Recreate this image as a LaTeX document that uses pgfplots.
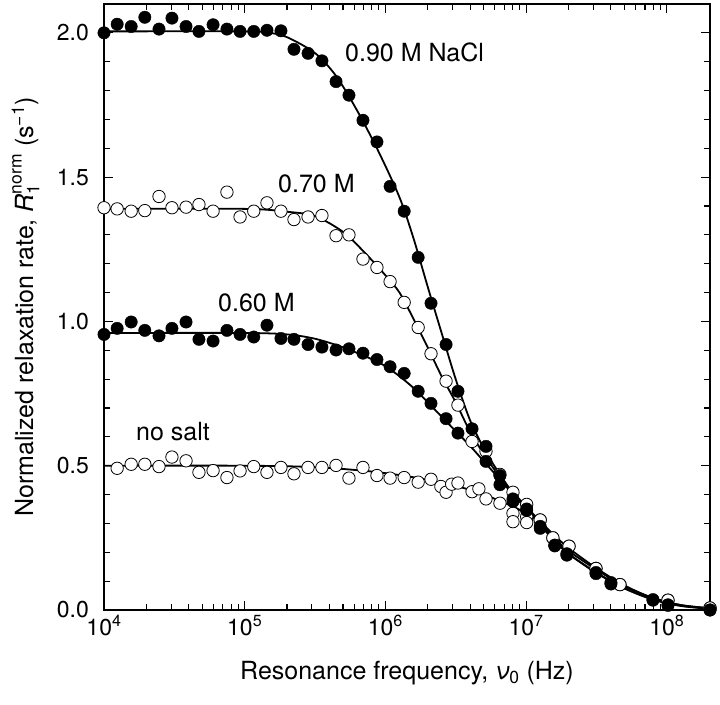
\documentclass[border=0pt]{standalone}
\usepackage{fontspec}
\setmainfont{TeX Gyre Heros}
\usepackage{amsmath}
\usepackage{pgfplots}
\pgfplotsset{compat=1.18}

\begin{document}
\begin{tikzpicture}
\useasboundingbox (-104pt,-94pt) rectangle (616pt,610pt);
\begin{axis}[
  at={(0,0)}, anchor=south west,
  width=606pt, height=606pt, scale only axis,
  xmode=log, xmin=1e4, xmax=2.03e8, ymin=0, ymax=2.1,
  clip=false,
  axis line style={line width=1.2pt},
  tick style={black, line width=1.1pt},
  major tick length=9pt, minor tick length=6pt,
  xtick={1e4,1e5,1e6,1e7,1e8},
  xticklabels={10\textsuperscript{4},10\textsuperscript{5},10\textsuperscript{6},10\textsuperscript{7},10\textsuperscript{8}},
  minor xtick={2e4,3e4,4e4,5e4,6e4,7e4,8e4,9e4,2e5,3e5,4e5,5e5,6e5,7e5,8e5,9e5,
    2e6,3e6,4e6,5e6,6e6,7e6,8e6,9e6,2e7,3e7,4e7,5e7,6e7,7e7,8e7,9e7,2e8},
  ytick={0,0.5,1,1.5,2},
  yticklabels={0.0,0.5,1.0,1.5,2.0},
  minor ytick={0.1,0.2,0.3,0.4,0.6,0.7,0.8,0.9,1.1,1.2,1.3,1.4,1.6,1.7,1.8,1.9,2.1},
  tick label style={font=\fontsize{23}{26}\selectfont},
  yticklabel style={inner sep=0pt, xshift=-15pt},
  xticklabel style={inner sep=0pt, anchor=north, yshift=-5pt},
  label style={font=\fontsize{25}{28}\selectfont},
  xlabel={Resonance frequency, $\textit{ν}_{\text{0}}$ (Hz)},
  xlabel style={at={(axis description cs:0.5,-0.1155)}, anchor=base, inner sep=0pt},
  ylabel={Normalized relaxation rate, $\textit{R}_{\text{1}}^{\text{norm}}$ (s$^{\text{−1}}$)},
  ylabel style={at={(axis description cs:-0.117,0.5)}, anchor=base, inner sep=0pt},
  fit/.style={black, line width=1.8pt, smooth},
  full/.style={only marks, mark=*, mark size=6.2pt, mark options={fill=black, draw=black}},
  empty/.style={only marks, mark=*, mark size=6.2pt, mark options={fill=white, draw=black, line width=0.8pt}},
]
% fitted curves
\addplot[fit] table {
1e4 2.005
1e5 2.005
1.5e5 2.0
2.0e5 1.985
3.16e5 1.93
4.47e5 1.85
6.31e5 1.73
8.91e5 1.59
1.26e6 1.43
1.58e6 1.29
2.0e6 1.12
2.51e6 0.96
3.16e6 0.80
3.98e6 0.66
5.01e6 0.56
6.31e6 0.48
7.94e6 0.41
1e7 0.355
1.26e7 0.30
1.58e7 0.245
2.0e7 0.195
3.16e7 0.13
5.01e7 0.075
7.94e7 0.038
1.26e8 0.015
2.03e8 0.005
};
\addplot[fit] table {
1e4 1.39
1e5 1.39
2e5 1.38
3.16e5 1.365
5.01e5 1.31
7.08e5 1.24
1e6 1.16
1.26e6 1.10
1.58e6 1.01
2e6 0.91
2.51e6 0.81
3.16e6 0.72
3.98e6 0.62
5.01e6 0.54
6.31e6 0.47
7.94e6 0.41
1e7 0.36
1.26e7 0.305
1.58e7 0.25
2e7 0.205
3.16e7 0.14
5.01e7 0.082
7.94e7 0.042
1.26e8 0.017
2.03e8 0.006
};
\addplot[fit] table {
1e4 0.96
1e5 0.96
2e5 0.955
3.16e5 0.94
5.01e5 0.91
7.94e5 0.87
1e6 0.845
1.26e6 0.81
1.58e6 0.77
2e6 0.72
2.51e6 0.67
3.16e6 0.62
3.98e6 0.57
5.01e6 0.515
6.31e6 0.46
7.94e6 0.405
1e7 0.35
1.26e7 0.295
1.58e7 0.24
2e7 0.195
3.16e7 0.128
5.01e7 0.075
7.94e7 0.036
1.26e8 0.014
2.03e8 0.004
};
\addplot[fit] table {
1e4 0.50
1e5 0.50
3.16e5 0.495
7.94e5 0.48
1.58e6 0.46
3.16e6 0.43
5.01e6 0.40
7.94e6 0.36
1e7 0.335
1.26e7 0.305
1.58e7 0.26
2e7 0.215
3.16e7 0.145
5.01e7 0.085
7.94e7 0.042
1.26e8 0.017
2.03e8 0.006
};

% no salt (open)
\addplot[empty] table {
1.24e4 0.491
1.56e4 0.505
1.95e4 0.505
2.46e4 0.497
3.04e4 0.530
3.83e4 0.517
4.73e4 0.477
5.96e4 0.483
7.48e4 0.459
9.27e4 0.482
1.16e5 0.497
1.44e5 0.477
1.81e5 0.494
2.24e5 0.472
2.82e5 0.494
3.54e5 0.494
4.46e5 0.501
5.51e5 0.457
6.93e5 0.494
8.71e5 0.466
1.08e6 0.457
1.36e6 0.459
1.71e6 0.443
2.11e6 0.453
2.48e6 0.428
2.70e6 0.408
2.96e6 0.436
3.28e6 0.440
4.13e6 0.410
4.62e6 0.420
5.19e6 0.385
6.52e6 0.370
8.07e6 0.335
8.07e6 0.306
1.01e7 0.323
1.01e7 0.303
1.26e7 0.312
1.55e7 0.250
2.02e7 0.221
3.14e7 0.144
4.65e7 0.088
1.02e8 0.034
2.03e8 0.007
};
% 0.70 M (open)
\addplot[empty] table {
1.0e4 1.394
1.24e4 1.390
1.56e4 1.382
1.95e4 1.384
2.46e4 1.433
3.04e4 1.394
3.83e4 1.396
4.73e4 1.405
5.96e4 1.382
7.48e4 1.448
9.27e4 1.362
1.16e5 1.382
1.44e5 1.411
1.81e5 1.382
2.24e5 1.353
2.82e5 1.362
3.54e5 1.367
4.46e5 1.297
5.51e5 1.300
6.93e5 1.216
8.71e5 1.187
1.08e6 1.138
1.36e6 1.066
1.71e6 0.979
2.11e6 0.888
2.70e6 0.793
3.28e6 0.710
4.13e6 0.584
5.19e6 0.550
6.52e6 0.470
8.07e6 0.408
1.01e7 0.366
1.26e7 0.312
1.55e7 0.250
2.02e7 0.221
3.14e7 0.144
4.65e7 0.088
1.02e8 0.034
2.03e8 0.007
};
% 0.60 M (filled)
\addplot[full] table {
1.0e4 0.955
1.24e4 0.976
1.56e4 0.998
1.95e4 0.969
2.46e4 0.950
3.04e4 0.976
3.83e4 0.998
4.73e4 0.938
5.96e4 0.932
7.48e4 0.969
9.27e4 0.955
1.16e5 0.946
1.44e5 0.987
1.81e5 0.941
2.24e5 0.938
2.82e5 0.920
3.54e5 0.911
4.46e5 0.901
5.51e5 0.905
6.93e5 0.890
8.71e5 0.868
1.08e6 0.843
1.36e6 0.820
1.71e6 0.758
2.11e6 0.716
2.70e6 0.663
3.28e6 0.613
5.19e6 0.515
6.52e6 0.434
8.07e6 0.376
1.01e7 0.345
1.26e7 0.283
1.60e7 0.222
1.95e7 0.190
3.14e7 0.126
4.01e7 0.090
7.98e7 0.034
1.02e8 0.016
2.03e8 0.0
};
% 0.90 M NaCl (filled)
\addplot[full] table {
1.0e4 2.000
1.24e4 2.030
1.56e4 2.022
1.95e4 2.054
2.46e4 2.013
3.04e4 2.051
3.83e4 2.022
4.73e4 2.005
5.96e4 2.028
7.48e4 2.013
9.27e4 2.005
1.16e5 2.005
1.44e5 2.009
1.81e5 2.007
2.24e5 1.943
2.82e5 1.929
3.54e5 1.903
4.46e5 1.831
5.51e5 1.784
6.93e5 1.697
8.71e5 1.622
1.08e6 1.468
1.36e6 1.382
1.71e6 1.222
2.11e6 1.063
2.70e6 0.920
3.28e6 0.758
4.13e6 0.628
5.19e6 0.567
6.52e6 0.466
8.07e6 0.385
1.01e7 0.350
1.26e7 0.290
1.60e7 0.225
1.95e7 0.195
3.14e7 0.130
4.01e7 0.095
7.98e7 0.036
1.02e8 0.018
2.03e8 0.0
};

\node[anchor=base west, inner sep=0pt, font=\fontsize{25}{28}\selectfont] at (axis cs:5.16e5,1.899) {0.90 M NaCl};
\node[anchor=base west, inner sep=0pt, font=\fontsize{25}{28}\selectfont] at (axis cs:1.725e5,1.447) {0.70 M};
\node[anchor=base west, inner sep=0pt, font=\fontsize{25}{28}\selectfont] at (axis cs:6.46e4,1.035) {0.60 M};
\node[anchor=base west, inner sep=0pt, font=\fontsize{25}{28}\selectfont] at (axis cs:1.689e4,0.586) {no salt};
\end{axis}
\end{tikzpicture}
\end{document}
